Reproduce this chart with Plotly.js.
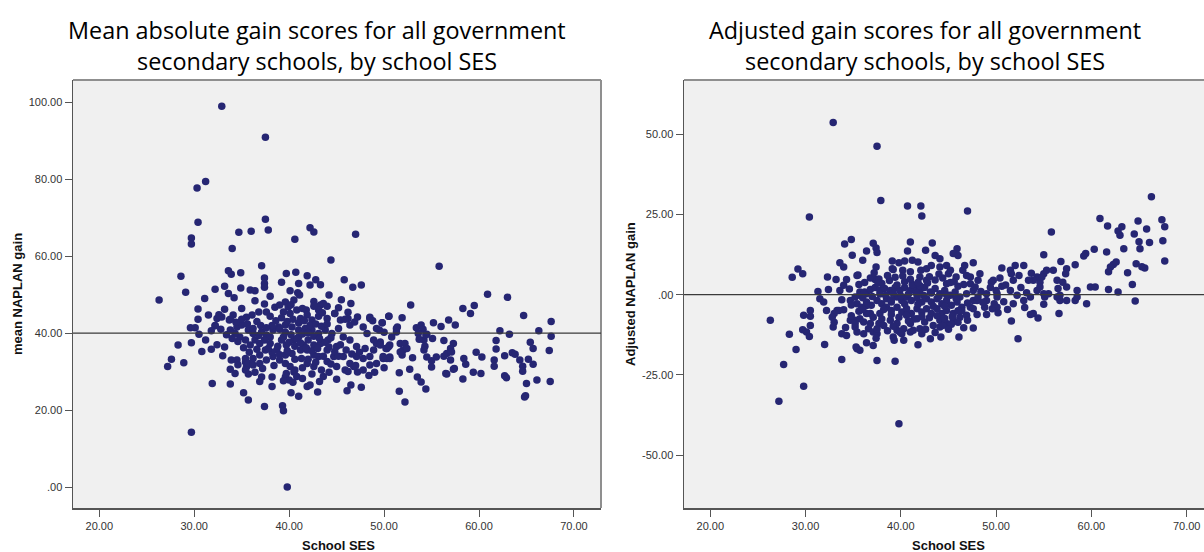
<!DOCTYPE html>
<html>
<head>
<meta charset="utf-8">
<script src="https://cdn.plot.ly/plotly-3.0.1.min.js"></script>
<style>
  html, body { margin: 0; padding: 0; background: #ffffff; overflow: hidden; }
  #chart { width: 1230px; height: 552px; }
</style>
</head>
<body>
<div id="chart"></div>
<script>
// ---- Mean absolute gain vs school SES (left panel) ----
const gainSES = [
  32.9,37.5,30.3,31.2,30.4,37.5,37.8,29.7,29.7,34.7,
  36.0,34.0,40.6,42.2,42.6,37.1,28.6,29.1,26.3,31.1,
  32.2,33.2,33.6,33.9,34.9,33.6,34.2,34.9,35.9,36.4,
  37.4,37.4,37.4,39.2,39.7,40.7,40.1,41.0,41.9,40.9,
  41.1,42.2,42.8,30.4,31.5,47.0,44.4,55.8,43.3,45.8,
  46.7,47.6,44.2,45.5,46.5,52.8,58.3,59.5,59.1,60.9,
  63.0,64.7,67.6,42.6,43.3,43.6,41.8,43.1,44.8,46.2,
  48.5,50.5,51.9,55.2,56.8,
  51.3,51.3,53.4,53.9,54.1,53.6,54.5,55.1,54.2,54.3,
  56.0,57.5,56.3,57.3,57.0,56.6,57.1,56.3,55.5,55.0,
  55.0,57.0,57.4,56.6,58.4,58.6,58.3,59.7,60.3,59.4,
  60.2,62.2,63.2,61.8,61.8,61.6,61.6,62.7,63.5,63.8,
  62.7,62.9,65.4,65.7,64.3,64.6,65.2,65.7,64.6,65.0,
  66.1,64.9,64.8,66.3,67.6,67.4,67.5,51.6,51.6,52.2,
  52.7,53.5,53.9,54.4,53.0,50.6,51.7,52.2,52.0,52.4,
  51.9,50.6,56.5,57.3,54.2,54.5,53.7,54.4,49.8,49.5,
  50.2,49.6,49.2,49.9,50.3,47.6,46.5,46.1,47.2,51.4,
  30.4,32.4,32.9,33.7,34.1,29.6,30.1,30.5,28.3,29.7,
  27.6,28.9,27.2,31.8,33.0,31.9,33.8,33.8,34.3,35.2,
  35.7,37.4,39.3,39.4,40.2,41.0,41.9,42.2,43.0,38.2,
  38.2,36.9,37.1,51.7,29.7,39.8,32.2,34.5,35.4,35.5,
  35.7,39.6,40.0,40.5,
  35.5,36.1,36.8,37.6,38.0,38.5,39.0,39.6,39.9,40.5,
  39.4,40.1,40.8,41.2,41.9,42.4,43.1,43.5,44.0,44.8,
  45.4,45.9,46.4,46.9,47.8,48.5,49.2,49.8,50.5,48.2,
  48.9,49.6,50.3,49.9,49.2,48.5,48.0,47.1,47.1,46.4,
  45.9,45.0,44.7,44.0,43.4,43.6,44.0,43.3,42.6,42.0,
  41.5,41.0,40.5,39.7,39.2,38.7,38.0,37.5,36.9,36.4,
  35.9,35.4,34.8,34.3,33.8,34.5,35.0,35.7,36.2,37.1,
  37.6,38.3,38.9,39.6,40.3,41.0,41.7,42.4,43.1,43.8,
  44.5,45.2,45.7,46.4,45.0,44.1,40.3,39.6,39.0,39.6,
  40.1,40.6,39.7,40.8,38.3,37.6,36.9,36.2,35.4,35.7,
  36.2,36.9,41.3,41.9,42.6,43.1,41.9,41.2,42.6,45.7,
  46.8,47.8,48.5,50.5,50.6,48.9,
  38.6,39.2,39.8,40.4,41.0,41.6,42.2,42.8,43.4,44.0,
  38.2,39.0,39.6,40.2,40.8,41.4,42.0,42.6,43.2,43.8,
  44.4,38.0,37.4,36.8,36.2,35.6,35.0,34.4,33.8,36.6,
  37.0,37.6,39.4,40.0,40.6,41.2,41.8,42.4,43.0,44.2,
  44.8,45.4,46.0,46.6,47.4,38.8,38.2,37.8,36.6,35.8,
  35.2,34.6,34.0,33.4,32.8,32.2,39.0,39.8,40.6,41.4,
  42.0,42.8,43.6,44.4,45.2,38.4,37.2,36.4,35.4,34.6,
  33.9,39.4,40.4,41.4,42.4,43.2,44.2,45.0,46.2,47.0,
  47.8,48.4,49.0,50.0,50.8,50.0,
  48.8,47.2,46.2,45.2,44.0,40.2,41.4,42.6,37.4,36.4,
  38.0,35.0,33.2,32.6,31.8,31.2,32.4,30.8,33.2
];
const gainScore = [
  99.0,90.9,77.7,79.4,68.8,69.6,66.8,64.7,63.2,66.2,
  66.5,62.0,64.4,67.4,66.3,57.5,54.8,50.6,48.6,49.0,
  51.4,52.2,56.2,55.3,55.7,50.3,49.2,51.7,51.2,51.0,
  54.3,52.9,51.9,53.2,55.5,55.8,51.0,52.9,54.9,50.5,
  49.9,52.5,53.9,46.3,44.7,65.7,59.0,57.4,52.6,53.9,
  51.9,52.5,49.9,48.7,47.7,47.3,46.4,47.2,45.1,50.1,
  49.3,44.6,43.0,48.2,47.3,47.7,46.0,46.0,45.1,43.8,
  44.1,44.4,44.0,42.7,43.4,
  41.2,40.3,41.4,42.1,41.0,39.9,39.7,38.6,38.2,36.6,
  41.7,42.1,38.1,37.3,36.0,34.7,35.1,34.0,33.8,32.8,
  31.2,33.0,30.8,29.4,33.4,31.9,28.1,35.0,33.8,29.8,
  29.5,40.6,39.7,38.1,35.9,33.0,31.4,34.1,34.9,34.5,
  28.9,28.4,37.6,36.0,33.0,31.4,33.2,31.9,30.1,26.9,
  27.8,23.7,23.4,40.6,39.2,35.5,27.4,29.7,24.9,22.1,
  30.6,28.6,27.3,25.5,33.6,33.8,37.3,37.3,35.6,36.0,
  34.3,36.9,29.5,30.6,35.6,33.8,38.4,39.6,42.7,40.8,
  36.0,37.7,37.3,33.4,33.4,25.9,26.5,25.0,29.9,41.6,
  43.6,43.8,44.2,43.4,44.7,41.4,41.4,39.7,36.9,37.5,
  33.2,32.3,31.3,35.8,34.1,26.9,26.8,30.6,29.5,24.5,
  22.6,20.9,21.1,19.8,24.5,23.6,26.1,26.5,24.7,28.6,
  26.1,27.4,28.6,35.1,14.2,0.0,41.9,33.0,32.5,31.2,
  29.4,28.6,27.8,29.9,
  44.1,44.7,45.5,45.5,44.4,46.7,47.3,48.1,46.8,48.6,
  45.5,45.1,46.0,43.8,44.7,43.4,44.4,45.3,43.8,45.1,
  43.4,43.6,42.1,42.9,41.6,43.8,41.2,42.7,44.4,39.9,
  38.2,36.9,36.0,33.9,32.1,31.7,36.0,36.5,33.9,32.1,
  30.4,31.3,33.9,32.6,30.4,28.7,35.6,37.3,36.9,38.2,
  36.9,39.0,38.2,36.9,38.2,35.6,37.3,35.6,37.3,38.2,
  36.9,38.2,39.0,39.9,40.8,41.6,42.1,40.8,39.9,40.3,
  39.5,40.8,41.6,42.1,41.6,40.8,41.2,40.8,39.9,40.8,
  39.9,41.2,39.0,38.2,36.5,38.2,34.7,34.3,33.0,32.1,
  31.3,30.4,29.5,28.7,33.9,33.0,34.3,33.4,33.4,32.1,
  31.7,32.1,33.4,32.1,31.3,33.9,35.6,35.6,34.3,33.9,
  31.3,33.4,33.9,36.5,33.4,35.6,
  43.2,44.0,43.0,43.6,42.6,43.2,42.0,42.4,41.8,42.4,
  42.0,41.0,40.2,39.6,38.6,39.8,40.0,39.2,38.6,37.6,
  38.8,39.0,38.2,39.4,41.2,42.4,43.6,42.8,43.6,43.0,
  42.0,41.4,39.0,37.6,36.6,37.4,36.2,35.4,36.0,36.4,
  35.2,37.0,35.6,34.6,35.0,36.6,35.0,36.0,35.8,35.0,
  36.2,37.8,38.6,39.6,41.0,42.0,34.4,35.4,33.2,31.0,
  33.2,32.4,34.0,32.0,34.0,31.6,30.8,29.8,30.4,31.8,
  33.0,27.6,27.2,28.2,29.4,27.4,29.8,28.0,30.0,31.6,
  30.4,29.0,29.8,31.0,39.0,40.2,
  43.2,44.2,45.4,46.6,47.0,47.4,46.4,47.0,47.6,48.4,
  49.6,46.4,46.2,44.8,40.6,38.2,37.0,35.2,36.4
];

// ---- Adjusted gain vs school SES (right panel) ----
const adjSES = [
  32.9,37.5,37.9,40.7,42.1,42.2,30.4,47.0,34.8,34.1,
  37.1,37.4,37.5,34.9,36.4,36.0,33.6,34.0,28.6,29.2,
  29.7,32.3,33.2,32.4,34.3,34.0,35.5,37.4,37.3,37.7,
  39.1,39.8,40.4,41.0,40.7,39.2,40.2,31.3,31.5,31.9,
  32.2,30.5,29.8,33.3,34.0,34.7,35.7,36.4,26.3,30.5,
  28.3,29.7,30.1,30.4,30.5,29.0,27.7,29.8,27.2,39.8,
  32.0,33.8,37.5,39.4,37.1,35.4,35.7,39.3,32.9,33.8,
  34.3,35.4,35.2,34.7,33.0,33.5,32.8,35.2,36.1,36.6,
  37.1,37.5,36.1,36.8,37.7,38.2,39.6,40.1,
  43.3,45.9,46.0,45.5,43.6,44.1,42.6,41.2,41.8,39.1,
  41.0,42.1,42.7,43.2,44.1,44.8,45.0,45.8,46.5,47.6,
  33.6,35.4,35.3,41.8,43.1,42.2,42.0,46.1,46.6,47.6,
  47.6,47.3,48.0,
  35.2,35.7,36.2,36.8,37.3,37.8,38.3,38.9,39.4,39.9,
  40.4,41.0,41.5,42.0,42.5,43.1,43.6,44.1,44.6,45.2,
  45.7,46.2,46.9,35.4,35.9,36.4,36.9,37.5,38.0,38.5,
  39.0,39.6,40.1,40.6,41.1,41.7,42.2,42.7,43.2,43.8,
  44.3,44.8,45.3,45.9,46.4,47.3,38.5,39.0,39.6,40.1,
  40.6,41.1,41.7,42.2,42.7,43.2,43.8,44.3,44.8,45.5,
  46.2,46.9,37.8,37.1,36.4,35.7,35.2,36.8,37.5,38.9,
  39.6,40.3,41.0,41.7,42.5,43.4,44.1,44.8,45.5,39.9,
  39.2,41.0,40.3,44.1,45.3,48.1,47.6,47.3,48.1,47.8,
  66.3,55.8,60.9,61.7,62.8,63.2,63.0,64.5,64.9,65.8,
  65.0,65.1,66.1,63.4,67.4,67.7,67.5,67.7,60.3,59.4,
  59.2,61.6,62.3,62.6,62.0,61.8,63.8,64.7,65.6,64.3,
  64.6,62.8,61.8,59.9,60.4,59.5,58.5,55.0,56.8,58.3,
  57.4,57.3,56.4,57.0,56.5,57.4,56.4,56.7,57.4,58.3,
  58.5,56.6,55.0,55.3,56.0,53.7,54.3,54.6,53.9,53.4,
  54.3,55.0,55.5,55.0,53.9,52.9,52.0,52.9,50.6,51.5,
  51.6,51.8,51.5,49.7,49.5,50.1,46.7,45.2,46.9,48.3,
  49.0,44.8,42.7,42.0,
  44.4,41.3,49.0,51.6,52.3,53.6,54.4,50.1,
  52.2,51.8,50.0,50.1,49.0,48.8,47.6,53.6,54.8,54.6,
  55.1,56.7,65.3,
  38.0,38.8,39.6,40.4,41.2,42.0,42.8,43.6,44.4,45.2,
  46.0,38.4,39.2,40.0,40.8,41.6,42.4,43.2,44.0,44.8,
  38.2,39.0,39.8,40.6,41.4,42.2,43.0,43.8,44.6,45.4,
  36.4,35.6,34.8,36.0,37.0,37.6,36.8,35.6,34.6,46.4,
  47.0,45.8,48.6,48.4,49.4,50.6,50.8,49.6,
  38.6,39.4,40.2,41.0,41.8,43.0,44.0,45.6,46.6,37.2,
  36.2,38.0,39.2,40.8,42.6,43.6,45.0,46.0,47.0,44.2,
  48.0,49.8,50.4,51.0,52.6,53.2,52.4,50.2,51.2,53.0,
  38.6,37.4,36.4,34.2,33.0,36.0,34.8,33.8,37.8,39.0,
  40.4,41.8,43.4,44.6,46.0
];
const adjScore = [
  53.6,46.2,29.3,27.6,27.6,24.5,24.2,26.0,17.2,15.8,
  16.0,14.5,13.1,12.3,13.6,10.7,9.9,8.6,5.4,8.0,
  6.5,5.5,4.7,1.6,4.7,2.9,6.1,8.6,4.7,4.9,
  10.5,9.9,10.5,16.4,13.6,7.8,7.6,1.0,-1.3,-2.3,
  -4.9,-4.9,-6.4,-4.9,-4.7,-1.8,0.8,0.3,-8.0,-6.7,
  -12.3,-10.9,-11.6,-13.0,-9.6,-17.1,-21.7,-28.5,-33.2,-40.2,
  -15.5,-20.2,-20.5,-20.7,-15.8,-16.8,-17.3,-14.2,-10.1,-12.2,
  -12.7,-11.6,-10.1,-8.0,-5.9,-4.9,-7.0,-8.0,-12.2,-10.6,
  -11.6,-12.2,-8.5,-5.9,-9.0,-9.6,-11.1,-12.2,
  16.1,14.3,12.2,12.8,12.2,11.2,13.8,10.7,10.2,8.1,
  7.1,7.6,8.1,9.1,8.6,9.1,6.5,5.5,7.6,9.9,
  1.3,6.0,-16.3,-15.6,-13.7,-12.2,-10.6,-13.2,-10.3,-10.4,
  -1.8,3.4,-1.8,
  -0.7,-0.2,0.8,1.6,2.2,1.3,1.9,1.3,2.2,1.3,
  2.2,1.3,1.9,1.3,2.2,0.8,1.9,0.3,1.3,-0.2,
  0.8,-0.7,0.3,-2.8,-3.9,-2.3,-3.3,-1.8,-2.8,-1.3,
  -2.3,-0.7,-1.8,-0.7,-1.8,-0.9,-2.3,-1.3,-2.3,-1.3,
  -2.8,-1.8,-3.3,-2.3,-3.9,-3.9,-3.9,-4.9,-3.9,-5.4,
  -4.4,-5.9,-4.4,-5.4,-4.4,-5.9,-4.4,-5.9,-4.9,-5.9,
  -7.0,-6.4,-5.9,-7.0,-5.9,-7.5,-9.0,-9.0,-10.6,-8.0,
  -9.0,-10.6,-9.0,-7.5,-8.5,-9.6,-8.0,-9.0,-8.0,-11.6,
  -13.2,-11.6,-14.2,-10.1,-9.2,-0.7,1.3,5.5,4.5,2.4,
  30.5,19.5,23.7,21.4,19.8,21.1,18.5,18.9,22.9,20.4,
  16.5,14.3,16.2,14.3,23.3,21.1,16.8,10.5,14.1,12.8,
  12.0,13.3,9.4,10.2,8.6,7.1,6.8,9.6,8.3,3.2,
  -2.0,0.8,1.6,2.4,2.4,-2.8,1.3,12.4,10.3,9.3,
  8.1,6.5,4.5,3.9,1.9,2.4,-0.7,-1.8,-1.8,-1.8,
  -0.7,-5.9,6.5,7.6,7.6,6.7,5.5,3.9,4.5,4.5,
  1.3,0.3,0.3,-3.0,-5.9,-1.8,9.1,9.1,8.3,7.6,
  6.5,4.5,1.3,4.5,3.9,0.3,9.1,7.6,6.0,6.5,
  0.3,3.4,4.5,5.5,
  -9.6,-11.1,-6.2,-8.2,-13.7,-6.2,-7.3,-3.9,
  -0.2,-2.8,1.3,-0.7,-1.8,-3.9,-4.4,-0.7,5.5,2.4,
  -0.7,-0.2,8.7,
  3.5,4.4,3.0,4.0,3.2,2.8,3.6,4.6,5.2,3.8,
  2.6,-0.2,0.4,-0.4,0.2,0.6,-0.3,0.5,-0.6,0.0,
  -4.6,-6.2,-7.0,-6.4,-7.6,-6.8,-7.2,-6.6,-7.4,-6.8,
  -3.4,-5.2,-6.6,-1.0,-0.6,3.6,5.2,3.2,1.8,-5.0,
  -2.6,-1.2,-2.4,1.0,2.2,2.6,-2.2,-4.4,
  6.0,5.4,5.8,4.8,3.8,5.6,6.4,4.0,3.2,6.8,
  3.8,-7.6,-9.8,-8.2,-10.8,-11.8,-10.8,-8.6,-8.0,-13.2,
  -6.2,-2.8,5.2,3.0,2.2,0.6,6.0,-5.6,-4.6,-4.0,
  -11.2,-13.6,-15.0,-10.2,-8.6,-4.6,-3.2,-1.6,0.2,-1.6,
  -2.8,-3.0,-3.6,-3.6,-5.0
];

// ---- Axis ticks, reference lines and text ----
const sesTicks = [20, 30, 40, 50, 60, 70];
const sesTickText = ['20.00', '30.00', '40.00', '50.00', '60.00', '70.00'];
const gainTicks = [0, 20, 40, 60, 80, 100];
const gainTickText = ['.00', '20.00', '40.00', '60.00', '80.00', '100.00'];
const adjTicks = [-50, -25, 0, 25, 50];
const adjTickText = ['-50.00', '-25.00', '.00', '25.00', '50.00'];
const gainRefLine = 40;
const adjRefLine = 0;
const gainTitle = ['Mean absolute gain scores for all government', 'secondary schools, by school SES'];
const adjTitle = ['Adjusted gain scores for all government', 'secondary schools, by school SES'];
const xLabel = 'School SES';
const gainYLabel = 'mean NAPLAN gain';
const adjYLabel = 'Adjusted NAPLAN gain';

// ---- Layout helpers (pixel positions on a W x H canvas) ----
const W = 1230, H = 552;
const fx = p => p / W;
const fy = p => 1 - p / H;

const dotColor = '#262673';
const tickFont = { family: 'Liberation Sans, Arial, sans-serif', size: 11, color: '#333333' };
const labelFont = { family: 'Liberation Sans, Arial, sans-serif', size: 13, color: '#111111', weight: 700 };
const titleFont = { family: 'Open Sans, sans-serif', size: 23.4, color: '#000000' };

function axisBase(extra) {
  return Object.assign({
    showgrid: false, zeroline: false, showline: true,
    linecolor: '#555555', linewidth: 1.5,
    ticks: 'outside', ticklen: 7, tickwidth: 1, tickcolor: '#555555',
    tickfont: tickFont, tickmode: 'array', fixedrange: true
  }, extra);
}

const plotTop = 80, plotBottom = 508;
const yDomain = [fy(plotBottom), fy(plotTop)];

const traces = [
  {
    type: 'scatter', mode: 'markers', x: gainSES, y: gainScore,
    xaxis: 'x', yaxis: 'y',
    marker: { size: 7.5, color: dotColor, line: { width: 0 } },
    hoverinfo: 'skip'
  },
  {
    type: 'scatter', mode: 'markers', x: adjSES, y: adjScore,
    xaxis: 'x2', yaxis: 'y2',
    marker: { size: 7.5, color: dotColor, line: { width: 0 } },
    hoverinfo: 'skip'
  }
];

function frameShapes(xr, yr, refY) {
  return [
    { type: 'line', xref: xr + ' domain', yref: yr + ' domain', x0: 0, x1: 1, y0: 1, y1: 1,
      line: { color: '#8f8f8f', width: 2 } },
    { type: 'line', xref: xr + ' domain', yref: yr + ' domain', x0: 1, x1: 1, y0: 0, y1: 1,
      line: { color: '#8f8f8f', width: 2 } },
    { type: 'line', xref: xr + ' domain', yref: yr, x0: 0, x1: 1, y0: refY, y1: refY,
      line: { color: '#3a3a3a', width: 1.3 }, layer: 'above' }
  ];
}

function textNote(text, x, y, font, extra) {
  return Object.assign({
    text: text, xref: 'paper', yref: 'paper', x: fx(x), y: fy(y),
    xanchor: 'center', yanchor: 'middle', showarrow: false, font: font
  }, extra || {});
}

const layout = {
  width: W, height: H,
  margin: { l: 0, r: 0, t: 0, b: 0, pad: 0 },
  paper_bgcolor: '#ffffff',
  plot_bgcolor: '#f0f0f0',
  showlegend: false,
  xaxis: axisBase({ domain: [fx(73), fx(601)], range: [17.23, 72.85], anchor: 'y',
                    tickvals: sesTicks, ticktext: sesTickText }),
  yaxis: axisBase({ domain: yDomain, range: [-5.46, 105.8], anchor: 'x',
                    tickvals: gainTicks, ticktext: gainTickText }),
  xaxis2: axisBase({ domain: [fx(684), fx(1214)], range: [17.24, 72.87], anchor: 'y2',
                     tickvals: sesTicks, ticktext: sesTickText }),
  yaxis2: axisBase({ domain: yDomain, range: [-66.4, 66.81], anchor: 'x2',
                     tickvals: adjTicks, ticktext: adjTickText }),
  shapes: frameShapes('x', 'y', gainRefLine).concat(frameShapes('x2', 'y2', adjRefLine)),
  annotations: [
    textNote(gainTitle[0], 317, 30, titleFont),
    textNote(gainTitle[1], 317, 61, titleFont),
    textNote(adjTitle[0], 925, 30, titleFont),
    textNote(adjTitle[1], 925, 61, titleFont),
    textNote(xLabel, 338, 545, labelFont),
    textNote(xLabel, 949, 545, labelFont),
    textNote(gainYLabel, 17, 294, labelFont, { textangle: -90 }),
    textNote(adjYLabel, 630, 294, labelFont, { textangle: -90 })
  ]
};

Plotly.newPlot('chart', traces, layout, { displayModeBar: false, staticPlot: true });
</script>
</body>
</html>
